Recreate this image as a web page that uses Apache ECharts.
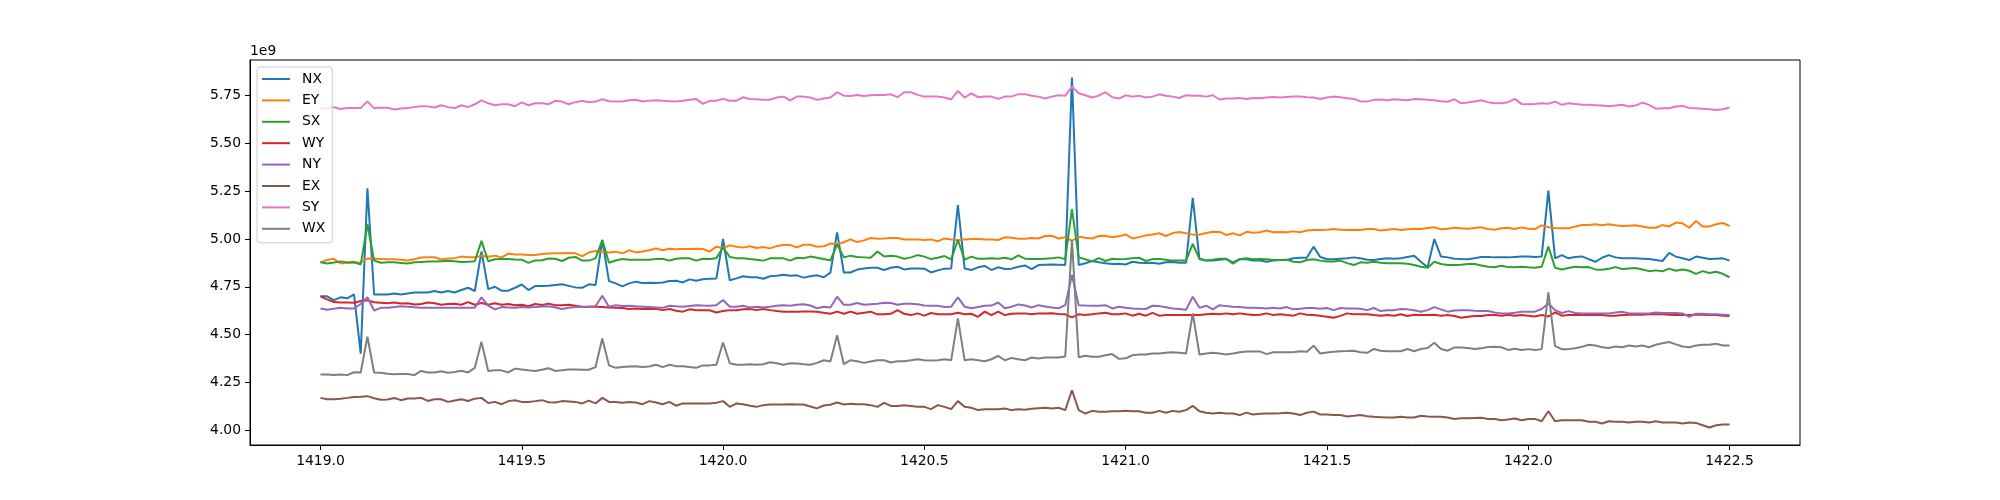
<!DOCTYPE html>
<html>
<head>
<meta charset="utf-8">
<title>NX / EY / SX / WY / NY / EX / SY / WX</title>
<script src="https://cdn.jsdelivr.net/npm/echarts@6/dist/echarts.min.js"></script>
<style>
  html, body { margin: 0; padding: 0; background: #fff; }
  #main { width: 2000px; height: 500px; }
</style>
</head>
<body>
<div id="main"></div>
<script>
// sampling grid: one point every 1/60, from 1419.0 to 1422.5
const xStart = 1419.0;
const xStep = 1 / 60;

// values in units of 1e9
const nx = [
  4.70, 4.70, 4.68, 4.695, 4.69, 4.71, 4.40, 5.265, 4.71, 4.71,
  4.71, 4.715, 4.71, 4.715, 4.72, 4.72, 4.72, 4.728, 4.72, 4.728,
  4.72, 4.733, 4.745, 4.728, 4.935, 4.738, 4.75, 4.73, 4.73, 4.745,
  4.762, 4.733, 4.754, 4.754, 4.755, 4.76, 4.763, 4.755, 4.747, 4.745,
  4.763, 4.76, 4.995, 4.78, 4.768, 4.752, 4.768, 4.777, 4.77, 4.771,
  4.77, 4.773, 4.78, 4.782, 4.773, 4.789, 4.782, 4.79, 4.792, 4.794,
  5.0, 4.784, 4.794, 4.805, 4.80, 4.80, 4.792, 4.805, 4.808, 4.813,
  4.808, 4.81, 4.798, 4.805, 4.81, 4.80, 4.824, 5.035, 4.825, 4.825,
  4.84, 4.846, 4.85, 4.85, 4.838, 4.85, 4.855, 4.841, 4.846, 4.846,
  4.845, 4.825, 4.836, 4.845, 4.846, 5.178, 4.846, 4.838, 4.852, 4.859,
  4.838, 4.852, 4.843, 4.845, 4.855, 4.862, 4.843, 4.864, 4.866, 4.867,
  4.866, 4.864, 5.845, 4.864, 4.873, 4.885, 4.878, 4.873, 4.869, 4.871,
  4.867, 4.881, 4.876, 4.874, 4.876, 4.871, 4.878, 4.88, 4.876, 4.876,
  5.216, 4.895, 4.888, 4.887, 4.892, 4.895, 4.878, 4.895, 4.894, 4.888,
  4.888, 4.881, 4.888, 4.89, 4.89, 4.899, 4.902, 4.902, 4.96, 4.906,
  4.894, 4.894, 4.897, 4.90, 4.904, 4.899, 4.892, 4.89, 4.895, 4.899,
  4.897, 4.899, 4.906, 4.913, 4.881, 4.852, 5.0, 4.908, 4.904, 4.897,
  4.895, 4.894, 4.899, 4.906, 4.906, 4.904, 4.904, 4.904, 4.906, 4.908,
  4.909, 4.906, 4.908, 5.253, 4.899, 4.916, 4.899, 4.906, 4.909, 4.895,
  4.881, 4.902, 4.916, 4.904, 4.899, 4.90, 4.899, 4.897, 4.895, 4.89,
  4.885, 4.927, 4.908, 4.899, 4.89, 4.908, 4.902, 4.895, 4.897, 4.899, 4.887
];
const ey = [
  4.878, 4.89, 4.897, 4.872, 4.876, 4.876, 4.879, 4.898, 4.897, 4.895,
  4.894, 4.894, 4.892, 4.888, 4.894, 4.903, 4.904, 4.905, 4.893, 4.898,
  4.90, 4.908, 4.905, 4.905, 4.913, 4.907, 4.913, 4.904, 4.924, 4.919,
  4.919, 4.917, 4.917, 4.922, 4.924, 4.925, 4.925, 4.927, 4.925, 4.909,
  4.93, 4.937, 4.934, 4.93, 4.934, 4.925, 4.941, 4.93, 4.935, 4.941,
  4.951, 4.941, 4.949, 4.946, 4.948, 4.948, 4.949, 4.948, 4.934, 4.96,
  4.953, 4.967, 4.96, 4.955, 4.962, 4.953, 4.958, 4.951, 4.963, 4.969,
  4.969, 4.956, 4.97, 4.97, 4.96, 4.962, 4.976, 4.974, 4.983, 4.998,
  4.984, 4.993, 5.005, 5.002, 5.003, 5.005, 5.005, 4.997, 4.997, 4.997,
  4.995, 4.998, 4.988, 5.003, 4.997, 4.993, 4.997, 5.0, 5.0, 4.998,
  4.997, 4.995, 5.009, 5.007, 5.002, 5.002, 5.005, 5.003, 5.016, 5.017,
  5.003, 5.009, 4.991, 5.012, 5.007, 5.003, 5.016, 5.017, 5.009, 5.014,
  5.024, 5.003, 5.01, 5.019, 5.024, 5.03, 5.016, 5.031, 5.037, 5.03,
  5.023, 5.023, 5.031, 5.038, 5.037, 5.021, 5.03, 5.019, 5.038, 5.033,
  5.035, 5.045, 5.035, 5.037, 5.035, 5.04, 5.035, 5.045, 5.047, 5.047,
  5.049, 5.052, 5.049, 5.047, 5.049, 5.047, 5.052, 5.052, 5.044, 5.049,
  5.052, 5.047, 5.051, 5.052, 5.052, 5.058, 5.061, 5.051, 5.054, 5.059,
  5.056, 5.054, 5.058, 5.061, 5.052, 5.049, 5.056, 5.059, 5.052, 5.061,
  5.054, 5.052, 5.072, 5.061, 5.058, 5.056, 5.056, 5.065, 5.073, 5.073,
  5.077, 5.072, 5.077, 5.072, 5.068, 5.07, 5.072, 5.066, 5.059, 5.059,
  5.073, 5.066, 5.086, 5.082, 5.059, 5.094, 5.065, 5.066, 5.077, 5.084, 5.068
];
const sx = [
  4.878, 4.872, 4.877, 4.883, 4.877, 4.88, 4.866, 5.077, 4.887, 4.876,
  4.878, 4.878, 4.875, 4.872, 4.878, 4.88, 4.882, 4.882, 4.884, 4.886,
  4.884, 4.88, 4.881, 4.884, 4.99, 4.884, 4.894, 4.895, 4.896, 4.893,
  4.892, 4.875, 4.888, 4.889, 4.898, 4.897, 4.885, 4.902, 4.906, 4.887,
  4.887, 4.899, 4.995, 4.876, 4.888, 4.895, 4.892, 4.892, 4.892, 4.892,
  4.895, 4.897, 4.887, 4.897, 4.899, 4.899, 4.887, 4.897, 4.895, 4.90,
  4.956, 4.906, 4.90, 4.899, 4.895, 4.892, 4.887, 4.899, 4.899, 4.899,
  4.887, 4.902, 4.899, 4.908, 4.902, 4.895, 4.888, 4.972, 4.904, 4.913,
  4.906, 4.904, 4.902, 4.935, 4.909, 4.913, 4.908, 4.897, 4.904, 4.916,
  4.908, 4.895, 4.902, 4.911, 4.894, 4.995, 4.892, 4.908, 4.897, 4.897,
  4.899, 4.897, 4.902, 4.894, 4.914, 4.897, 4.895, 4.895, 4.897, 4.899,
  4.904, 4.895, 5.157, 4.904, 4.894, 4.883, 4.90, 4.885, 4.897, 4.894,
  4.895, 4.899, 4.902, 4.885, 4.895, 4.895, 4.892, 4.887, 4.887, 4.887,
  4.974, 4.897, 4.888, 4.892, 4.897, 4.897, 4.871, 4.894, 4.899, 4.894,
  4.895, 4.894, 4.89, 4.89, 4.892, 4.881, 4.878, 4.89, 4.894, 4.887,
  4.883, 4.883, 4.887, 4.874, 4.864, 4.878, 4.876, 4.881, 4.876, 4.873,
  4.873, 4.873, 4.871, 4.864, 4.855, 4.85, 4.881, 4.869, 4.864, 4.864,
  4.866, 4.869, 4.869, 4.862, 4.855, 4.852, 4.86, 4.853, 4.852, 4.855,
  4.852, 4.85, 4.855, 4.96, 4.85, 4.841, 4.848, 4.855, 4.852, 4.853,
  4.841, 4.839, 4.845, 4.853, 4.843, 4.846, 4.848, 4.841, 4.832, 4.836,
  4.831, 4.845, 4.834, 4.841, 4.834, 4.818, 4.832, 4.822, 4.829, 4.818, 4.80
];
const wy = [
  4.70, 4.684, 4.67, 4.668, 4.668, 4.667, 4.676, 4.68, 4.669, 4.667,
  4.664, 4.668, 4.663, 4.664, 4.658, 4.66, 4.668, 4.664, 4.656, 4.66,
  4.661, 4.656, 4.67, 4.656, 4.665, 4.656, 4.664, 4.656, 4.66, 4.654,
  4.656, 4.648, 4.66, 4.655, 4.662, 4.654, 4.654, 4.656, 4.651, 4.646,
  4.646, 4.646, 4.644, 4.642, 4.64, 4.639, 4.634, 4.637, 4.634, 4.634,
  4.635, 4.628, 4.634, 4.625, 4.62, 4.632, 4.628, 4.628, 4.627, 4.616,
  4.623, 4.628, 4.628, 4.632, 4.634, 4.628, 4.634, 4.628, 4.623, 4.62,
  4.62, 4.62, 4.621, 4.621, 4.62, 4.614, 4.609, 4.62, 4.609, 4.62,
  4.609, 4.614, 4.62, 4.606, 4.607, 4.609, 4.628, 4.609, 4.602, 4.611,
  4.599, 4.613, 4.607, 4.606, 4.606, 4.614, 4.606, 4.609, 4.593, 4.62,
  4.602, 4.62, 4.602, 4.609, 4.611, 4.611, 4.606, 4.611, 4.611, 4.612,
  4.608, 4.606, 4.59, 4.606, 4.602, 4.606, 4.611, 4.614, 4.606, 4.606,
  4.611, 4.599, 4.609, 4.599, 4.614, 4.599, 4.602, 4.602, 4.602, 4.602,
  4.602, 4.602, 4.606, 4.609, 4.606, 4.611, 4.606, 4.611, 4.606, 4.602,
  4.604, 4.611, 4.602, 4.606, 4.602, 4.599, 4.611, 4.604, 4.602, 4.598,
  4.593, 4.588, 4.598, 4.611, 4.606, 4.606, 4.606, 4.602, 4.599, 4.602,
  4.599, 4.606, 4.597, 4.604, 4.602, 4.602, 4.604, 4.599, 4.602, 4.597,
  4.588, 4.593, 4.597, 4.597, 4.602, 4.602, 4.599, 4.604, 4.599, 4.602,
  4.599, 4.595, 4.602, 4.595, 4.616, 4.599, 4.602, 4.602, 4.602, 4.602,
  4.602, 4.602, 4.599, 4.599, 4.602, 4.604, 4.604, 4.604, 4.606, 4.606,
  4.606, 4.604, 4.602, 4.602, 4.602, 4.604, 4.604, 4.602, 4.602, 4.599, 4.597
];
const ny = [
  4.637, 4.63, 4.635, 4.64, 4.637, 4.637, 4.66, 4.695, 4.626, 4.64,
  4.641, 4.644, 4.648, 4.646, 4.643, 4.64, 4.64, 4.64, 4.64, 4.64,
  4.64, 4.64, 4.64, 4.64, 4.695, 4.652, 4.632, 4.644, 4.642, 4.64,
  4.644, 4.642, 4.644, 4.647, 4.648, 4.642, 4.634, 4.64, 4.644, 4.645,
  4.646, 4.648, 4.703, 4.646, 4.654, 4.65, 4.651, 4.648, 4.646, 4.644,
  4.642, 4.64, 4.651, 4.648, 4.646, 4.65, 4.654, 4.652, 4.651, 4.654,
  4.681, 4.646, 4.646, 4.651, 4.642, 4.646, 4.642, 4.646, 4.651, 4.654,
  4.651, 4.656, 4.659, 4.652, 4.638, 4.646, 4.642, 4.698, 4.656, 4.656,
  4.665, 4.656, 4.659, 4.661, 4.667, 4.665, 4.656, 4.661, 4.661, 4.659,
  4.652, 4.651, 4.651, 4.644, 4.646, 4.695, 4.646, 4.638, 4.644, 4.651,
  4.652, 4.668, 4.638, 4.646, 4.658, 4.652, 4.642, 4.654, 4.647, 4.642,
  4.638, 4.654, 4.812, 4.654, 4.652, 4.651, 4.651, 4.654, 4.637, 4.646,
  4.64, 4.637, 4.635, 4.634, 4.651, 4.649, 4.643, 4.637, 4.634, 4.63,
  4.698, 4.64, 4.651, 4.632, 4.654, 4.649, 4.646, 4.644, 4.64, 4.64,
  4.639, 4.637, 4.64, 4.637, 4.644, 4.632, 4.635, 4.639, 4.639, 4.635,
  4.639, 4.628, 4.639, 4.637, 4.636, 4.635, 4.628, 4.639, 4.623, 4.627,
  4.628, 4.634, 4.632, 4.627, 4.62, 4.628, 4.644, 4.632, 4.62, 4.626,
  4.628, 4.628, 4.625, 4.623, 4.623, 4.616, 4.611, 4.611, 4.614, 4.62,
  4.62, 4.62, 4.634, 4.663, 4.628, 4.613, 4.623, 4.613, 4.611, 4.611,
  4.611, 4.611, 4.611, 4.616, 4.62, 4.611, 4.611, 4.611, 4.611, 4.616,
  4.613, 4.613, 4.613, 4.611, 4.593, 4.609, 4.609, 4.607, 4.606, 4.604, 4.602
];
const ex = [
  4.169, 4.162, 4.162, 4.165, 4.169, 4.174, 4.175, 4.178, 4.167, 4.159,
  4.16, 4.168, 4.157, 4.166, 4.166, 4.169, 4.153, 4.162, 4.162, 4.148,
  4.155, 4.162, 4.153, 4.165, 4.169, 4.142, 4.148, 4.136, 4.152, 4.157,
  4.148, 4.148, 4.152, 4.157, 4.146, 4.145, 4.152, 4.15, 4.148, 4.14,
  4.155, 4.14, 4.169, 4.148, 4.148, 4.143, 4.148, 4.145, 4.136, 4.152,
  4.145, 4.136, 4.148, 4.128, 4.14, 4.14, 4.14, 4.14, 4.14, 4.143,
  4.152, 4.122, 4.14, 4.136, 4.128, 4.122, 4.131, 4.134, 4.134, 4.134,
  4.136, 4.134, 4.134, 4.124, 4.114, 4.129, 4.133, 4.145, 4.134, 4.138,
  4.136, 4.136, 4.131, 4.122, 4.143, 4.127, 4.127, 4.131, 4.127, 4.122,
  4.122, 4.11, 4.131, 4.122, 4.11, 4.152, 4.122, 4.117, 4.105, 4.11,
  4.11, 4.11, 4.113, 4.105, 4.11, 4.107, 4.112, 4.115, 4.117, 4.113,
  4.117, 4.105, 4.209, 4.105, 4.087, 4.101, 4.096, 4.096, 4.099, 4.099,
  4.101, 4.099, 4.099, 4.091, 4.091, 4.101, 4.091, 4.101, 4.096, 4.105,
  4.127, 4.099, 4.091, 4.087, 4.091, 4.087, 4.087, 4.079, 4.092, 4.082,
  4.086, 4.087, 4.087, 4.088, 4.091, 4.087, 4.079, 4.091, 4.097, 4.082,
  4.082, 4.08, 4.079, 4.072, 4.075, 4.079, 4.073, 4.07, 4.068, 4.066,
  4.066, 4.07, 4.066, 4.066, 4.075, 4.072, 4.07, 4.07, 4.066, 4.059,
  4.063, 4.063, 4.064, 4.065, 4.059, 4.058, 4.052, 4.056, 4.061, 4.052,
  4.059, 4.059, 4.047, 4.099, 4.047, 4.052, 4.052, 4.052, 4.052, 4.044,
  4.044, 4.035, 4.047, 4.044, 4.044, 4.04, 4.044, 4.044, 4.04, 4.047,
  4.04, 4.04, 4.04, 4.035, 4.04, 4.038, 4.026, 4.014, 4.026, 4.03, 4.03
];
const sy = [
  5.68, 5.685, 5.69, 5.68, 5.685, 5.685, 5.685, 5.72, 5.685, 5.687,
  5.687, 5.678, 5.683, 5.685, 5.69, 5.695, 5.694, 5.688, 5.70, 5.69,
  5.685, 5.70, 5.69, 5.705, 5.725, 5.71, 5.70, 5.705, 5.705, 5.695,
  5.715, 5.70, 5.71, 5.71, 5.705, 5.723, 5.719, 5.705, 5.716, 5.723,
  5.716, 5.719, 5.731, 5.721, 5.719, 5.719, 5.726, 5.729, 5.719, 5.724,
  5.726, 5.723, 5.721, 5.719, 5.723, 5.728, 5.733, 5.707, 5.723, 5.724,
  5.733, 5.723, 5.724, 5.742, 5.733, 5.731, 5.728, 5.729, 5.74, 5.745,
  5.725, 5.745, 5.745, 5.74, 5.728, 5.735, 5.74, 5.768, 5.75, 5.748,
  5.754, 5.748, 5.752, 5.754, 5.754, 5.757, 5.742, 5.768, 5.768, 5.754,
  5.745, 5.745, 5.745, 5.74, 5.73, 5.775, 5.74, 5.762, 5.742, 5.745,
  5.745, 5.733, 5.745, 5.745, 5.758, 5.758, 5.75, 5.745, 5.735, 5.745,
  5.752, 5.75, 5.798, 5.763, 5.752, 5.74, 5.75, 5.768, 5.742, 5.735,
  5.752, 5.745, 5.75, 5.74, 5.745, 5.757, 5.75, 5.745, 5.738, 5.752,
  5.75, 5.75, 5.745, 5.752, 5.73, 5.735, 5.735, 5.738, 5.733, 5.738,
  5.737, 5.74, 5.743, 5.74, 5.743, 5.745, 5.745, 5.742, 5.74, 5.733,
  5.74, 5.745, 5.742, 5.737, 5.733, 5.72, 5.72, 5.728, 5.73, 5.726,
  5.731, 5.728, 5.726, 5.733, 5.731, 5.728, 5.726, 5.721, 5.718, 5.731,
  5.71, 5.714, 5.72, 5.726, 5.716, 5.71, 5.71, 5.716, 5.733, 5.707,
  5.705, 5.707, 5.71, 5.708, 5.719, 5.702, 5.71, 5.707, 5.702, 5.702,
  5.70, 5.698, 5.695, 5.698, 5.702, 5.693, 5.698, 5.714, 5.702, 5.682,
  5.684, 5.684, 5.693, 5.696, 5.686, 5.684, 5.681, 5.679, 5.675, 5.679, 5.688
];
const wx = [
  4.291, 4.291, 4.289, 4.291, 4.288, 4.303, 4.302, 4.489, 4.302, 4.30,
  4.295, 4.292, 4.294, 4.294, 4.288, 4.31, 4.302, 4.302, 4.308, 4.30,
  4.304, 4.311, 4.302, 4.326, 4.462, 4.31, 4.313, 4.313, 4.302, 4.322,
  4.317, 4.313, 4.31, 4.316, 4.324, 4.31, 4.314, 4.317, 4.318, 4.316,
  4.316, 4.33, 4.48, 4.339, 4.326, 4.33, 4.333, 4.335, 4.33, 4.333,
  4.342, 4.33, 4.342, 4.335, 4.335, 4.33, 4.326, 4.339, 4.339, 4.342,
  4.459, 4.35, 4.342, 4.342, 4.345, 4.342, 4.345, 4.355, 4.35, 4.342,
  4.35, 4.349, 4.345, 4.342, 4.352, 4.366, 4.359, 4.497, 4.345, 4.366,
  4.361, 4.352, 4.359, 4.366, 4.366, 4.354, 4.361, 4.361, 4.366, 4.371,
  4.366, 4.364, 4.366, 4.371, 4.366, 4.585, 4.366, 4.371, 4.366, 4.361,
  4.371, 4.389, 4.366, 4.378, 4.371, 4.366, 4.38, 4.375, 4.38, 4.38,
  4.38, 4.385, 4.995, 4.382, 4.389, 4.384, 4.384, 4.392, 4.398, 4.373,
  4.376, 4.392, 4.396, 4.396, 4.401, 4.401, 4.405, 4.408, 4.405, 4.401,
  4.611, 4.396, 4.401, 4.405, 4.401, 4.396, 4.401, 4.408, 4.412, 4.412,
  4.412, 4.398, 4.408, 4.408, 4.408, 4.408, 4.413, 4.41, 4.442, 4.401,
  4.406, 4.41, 4.413, 4.414, 4.416, 4.408, 4.405, 4.425, 4.416, 4.413,
  4.413, 4.413, 4.425, 4.413, 4.425, 4.43, 4.457, 4.425, 4.416, 4.433,
  4.433, 4.43, 4.425, 4.428, 4.435, 4.436, 4.434, 4.42, 4.426, 4.42,
  4.424, 4.42, 4.424, 4.721, 4.44, 4.424, 4.424, 4.429, 4.436, 4.447,
  4.443, 4.434, 4.43, 4.438, 4.434, 4.443, 4.438, 4.443, 4.434, 4.447,
  4.455, 4.461, 4.449, 4.438, 4.434, 4.443, 4.447, 4.447, 4.452, 4.443, 4.443
];

const seriesNames = ['NX', 'EY', 'SX', 'WY', 'NY', 'EX', 'SY', 'WX'];
const seriesValues = [nx, ey, sx, wy, ny, ex, sy, wx];
const colors = ['#1f77b4', '#ff7f0e', '#2ca02c', '#d62728', '#9467bd', '#8c564b', '#e377c2', '#7f7f7f'];

const xTicks = [1419.0, 1419.5, 1420.0, 1420.5, 1421.0, 1421.5, 1422.0, 1422.5];
const yTicks = [4.00, 4.25, 4.50, 4.75, 5.00, 5.25, 5.50, 5.75];

const xs = nx.map((_, i) => xStart + i * xStep);

// matplotlib style autoscale: 5% margin on each side
const allY = [].concat(...seriesValues);
const yMinData = Math.min(...allY);
const yMaxData = Math.max(...allY);
const yPad = (yMaxData - yMinData) * 0.05;
const xPad = (xs[xs.length - 1] - xs[0]) * 0.05;

const font = 'DejaVu Sans';

const myChart = echarts.init(document.getElementById('main'));
myChart.setOption({
  animation: false,
  backgroundColor: '#fff',
  color: colors,
  textStyle: { fontFamily: font, color: '#000' },
  title: {
    text: '1e9',
    left: 250,
    top: 44,
    padding: 0,
    textStyle: { fontFamily: font, fontSize: 13.9, fontWeight: 'normal', color: '#000' }
  },
  grid: {
    left: 250,
    right: 200,
    top: 60,
    bottom: 55,
    show: true,
    borderColor: '#000',
    borderWidth: 1,
    backgroundColor: 'transparent'
  },
  legend: {
    orient: 'vertical',
    left: 257,
    top: 67,
    data: seriesNames,
    icon: 'rect',
    itemWidth: 28,
    itemHeight: 2,
    itemGap: 5.4,
    padding: [4, 7, 6, 5],
    backgroundColor: 'rgba(255,255,255,0.8)',
    borderColor: '#cccccc',
    borderWidth: 1,
    borderRadius: 3,
    textStyle: {
      fontFamily: font,
      fontSize: 13.9,
      color: '#000',
      lineHeight: 16,
      padding: [0, 0, 0, 7]
    }
  },
  xAxis: {
    type: 'value',
    min: xs[0] - xPad,
    max: xs[xs.length - 1] + xPad,
    splitLine: { show: false },
    axisLine: { show: true, onZero: false, lineStyle: { color: '#000', width: 1 } },
    axisTick: { show: true, length: 5, customValues: xTicks, lineStyle: { color: '#000' } },
    axisLabel: {
      customValues: xTicks,
      margin: 9,
      fontFamily: font,
      fontSize: 13.9,
      color: '#000',
      formatter: (v) => v.toFixed(1)
    }
  },
  yAxis: {
    type: 'value',
    min: yMinData - yPad,
    max: yMaxData + yPad,
    splitLine: { show: false },
    axisLine: { show: true, onZero: false, lineStyle: { color: '#000', width: 1 } },
    axisTick: { show: true, length: 5, customValues: yTicks, lineStyle: { color: '#000' } },
    axisLabel: {
      customValues: yTicks,
      margin: 9,
      fontFamily: font,
      fontSize: 13.9,
      color: '#000',
      formatter: (v) => v.toFixed(2)
    }
  },
  series: seriesNames.map((name, k) => ({
    name: name,
    type: 'line',
    showSymbol: false,
    symbol: 'none',
    lineStyle: { width: 2, color: colors[k] },
    itemStyle: { color: colors[k] },
    data: seriesValues[k].map((v, i) => [xs[i], v])
  }))
});
</script>
</body>
</html>
